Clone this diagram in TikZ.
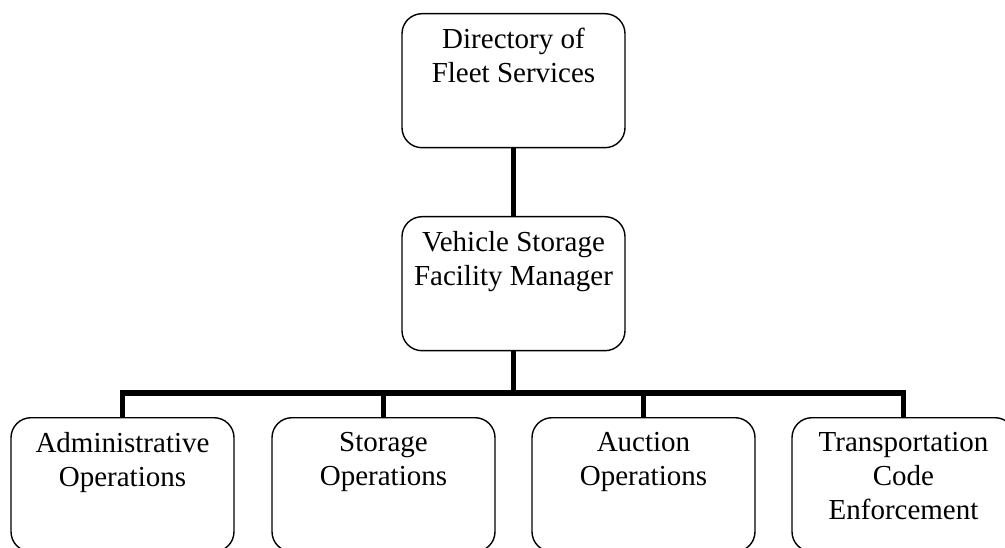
\documentclass[tikz,border=0pt]{standalone}
\usepackage{fontspec}
\setmainfont{Liberation Serif}
\begin{document}
\begin{tikzpicture}[x=1pt,y=1pt,
  orgbox/.style={draw=black, line width=1.4pt, rounded corners=20pt,
    minimum width=223pt, minimum height=134pt, inner sep=0pt, anchor=north},
  lbl/.style={anchor=north, inner sep=0pt, align=center,
    font=\fontsize{29}{34}\selectfont, yshift=-15pt},
  link/.style={line width=5.5pt, line join=miter}]
\useasboundingbox (0,0) rectangle (1005,-548);
\clip (0,0) rectangle (1005,-548);
% boxes
\node[orgbox] (dir) at (513.5,-13) {};
\node[orgbox] (mgr) at (513.5,-216) {};
\node[orgbox] (adm) at (122.5,-417) {};
\node[orgbox] (sto) at (383.5,-417) {};
\node[orgbox] (auc) at (643.5,-417) {};
\node[orgbox] (tce) at (903.5,-417) {};
% labels
\node[lbl] (dirt) at (dir.north) {Directory of\\Fleet Services};
\node[lbl] (mgrt) at (mgr.north) {Vehicle Storage\\Facility Manager};
\node[lbl] (admt) at (adm.north) {Administrative\\Operations};
\node[lbl] (stot) at (sto.north) {Storage\\Operations};
\node[lbl] (auct) at (auc.north) {Auction\\Operations};
\node[lbl] (tcet) at (tce.north) {Transportation\\Code\\Enforcement};
% connectors
\coordinate (bar) at (513.5,-393);
\draw[link] (dir.south) -- (mgr.north);
\draw[link] (mgr.south) -- (bar);
\draw[link] (adm.north) |- (bar) -| (tce.north);
\draw[link] (sto.north) -- (sto.north |- bar);
\draw[link] (auc.north) -- (auc.north |- bar);
\end{tikzpicture}
\end{document}
